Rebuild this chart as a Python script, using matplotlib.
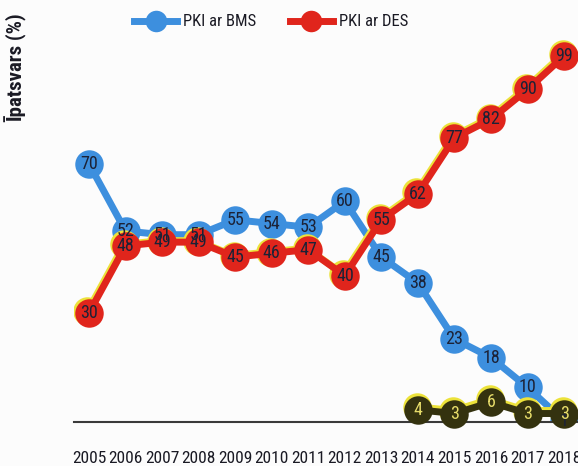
import matplotlib
matplotlib.use("Agg")
import matplotlib.pyplot as plt
import matplotlib.font_manager as fm
from matplotlib.lines import Line2D
from matplotlib import transforms

# Data
years = [2005, 2006, 2007, 2008, 2009, 2010, 2011, 2012, 2013, 2014, 2015, 2016, 2017, 2018]
pki_bms = [70, 52, 51, 51, 55, 54, 53, 60, 45, 38, 23, 18, 10, 1]
pki_des = [30, 48, 49, 49, 45, 46, 47, 40, 55, 62, 77, 82, 90, 99]
other_years = [2014, 2015, 2016, 2017, 2018]
other_vals = [4, 3, 6, 3, 3]
series_labels = ["PKI ar BMS", "PKI ar DES"]
ylabel_text = "Īpatsvars (%)"


def _weight(f):
    w = f.weight
    if isinstance(w, str):
        return {"bold": 700, "normal": 400, "regular": 400, "medium": 500,
                "light": 300, "semibold": 600}.get(w.lower(), 400)
    return int(w)


def pick_condensed(bold):
    """Find a condensed/narrow sans font file; None if nothing suitable."""
    prefs = ["roboto condensed", "liberation sans narrow", "noto sans",
             "open sans", "dejavu sans", "lato", "inter"]
    best, best_rank = None, None
    for f in fm.fontManager.ttflist:
        if f.style != "normal":
            continue
        low = (f.name + " " + str(f.stretch) + " " + f.fname).lower()
        if "mono" in low or "serif" in low or "cjk" in low:
            continue
        if not ("condensed" in low or "narrow" in low):
            continue
        w = _weight(f)
        if bold and w < 600:
            continue
        if not bold and not (350 <= w <= 500):
            continue
        width_rank = 0
        if "semi" in low or "semicondensed" in low:
            width_rank = 1
        if "extra" in low or "ultra" in low:
            width_rank = 2
        fam_rank = next((i for i, p in enumerate(prefs) if p in f.name.lower()), len(prefs))
        rank = (width_rank, fam_rank, abs(w - (700 if bold else 400)))
        if best_rank is None or rank < best_rank:
            best, best_rank = f.fname, rank
    return best


reg_path = pick_condensed(False)
bold_path = pick_condensed(True)
if reg_path:
    FP = fm.FontProperties(fname=reg_path)
else:
    FP = fm.FontProperties(family="Liberation Sans")
if bold_path:
    FPB = fm.FontProperties(fname=bold_path)
else:
    FPB = fm.FontProperties(family="Liberation Sans", weight="bold")


def fp(size, bold=False):
    p = (FPB if bold else FP).copy()
    p.set_size(size)
    return p


BLUE = "#3d8fde"
RED = "#e0251c"
YELLOW = "#ece23a"
OLIVE = "#34320f"
INK = "#1c2236"

W, H = 578, 466
fig = plt.figure(figsize=(W / 100, H / 100), dpi=100, facecolor="#fcfcfc")
ax = fig.add_axes([74 / W, 44 / H, 504 / W, 422 / H], facecolor="none")
ax.set_xlim(2004.59, 2018.38)
ax.set_ylim(0.72, 114.0)

LW = 5.0
MS = 20.5

yellow_shift = transforms.offset_copy(ax.transData, fig=fig, x=-1.5, y=1.5, units="dots")
olive_shift = transforms.offset_copy(ax.transData, fig=fig, x=-1.0, y=3.0, units="dots")

# BMS series
ax.plot(years, pki_bms, color=BLUE, lw=LW, marker="o", ms=MS,
        markeredgewidth=0, zorder=2, solid_capstyle="round")

# DES series with a slight yellow fringe underneath
ax.plot(years, pki_des, color=YELLOW, lw=LW, marker="o", ms=MS,
        markeredgewidth=0, zorder=3, transform=yellow_shift)
ax.plot(years, pki_des, color=RED, lw=LW, marker="o", ms=MS,
        markeredgewidth=0, zorder=4)

# Third series (dark olive, yellow fringe)
ax.plot(other_years, other_vals, color=YELLOW, lw=LW, marker="o", ms=MS,
        markeredgewidth=0, zorder=5, transform=olive_shift, clip_on=False)
ax.plot(other_years, other_vals, color=OLIVE, lw=LW, marker="o", ms=MS,
        markeredgewidth=0, zorder=6, clip_on=False)

# Value labels inside markers
LBL = 13
for x, v in zip(years, pki_bms):
    ax.text(x, v, str(v), ha="center", va="center", fontproperties=fp(LBL),
            color=INK, zorder=8)
for x, v in zip(years, pki_des):
    ax.text(x, v, str(v), ha="center", va="center", fontproperties=fp(LBL),
            color=INK, zorder=9)
for x, v in zip(other_years, other_vals):
    ax.text(x, v, str(v), ha="center", va="center", fontproperties=fp(LBL),
            color="#e6dc6a", zorder=10)

# Axes styling
for s in ["top", "right", "left"]:
    ax.spines[s].set_visible(False)
ax.spines["bottom"].set_color("#3a3a3a")
ax.spines["bottom"].set_linewidth(1.5)
ax.set_yticks([])
ax.set_xticks(years)
ax.set_xticklabels([str(y) for y in years], color="#1a1a24")
for t in ax.get_xticklabels():
    t.set_fontproperties(fp(12.5))
ax.tick_params(axis="x", length=0, pad=21)

# Y axis title
fig.text(16 / W, 1 - 68 / H, ylabel_text, rotation=90, ha="center", va="center",
         fontproperties=fp(15, bold=True), color="#1a1a24")

# Legend
handles = [
    Line2D([0], [0], color=BLUE, lw=LW, marker="o", ms=15.5, markeredgewidth=0),
    Line2D([0], [0], color=RED, lw=LW, marker="o", ms=15.5, markeredgewidth=0),
]
fig.legend(handles, series_labels, loc="center", bbox_to_anchor=(271 / W, 1 - 22 / H),
           ncol=2, frameon=False, prop=fp(12), handlelength=2.6,
           handletextpad=0.35, columnspacing=2.0, labelcolor="#1a1a24")

fig.savefig("out.png", dpi=100, facecolor=fig.get_facecolor())
